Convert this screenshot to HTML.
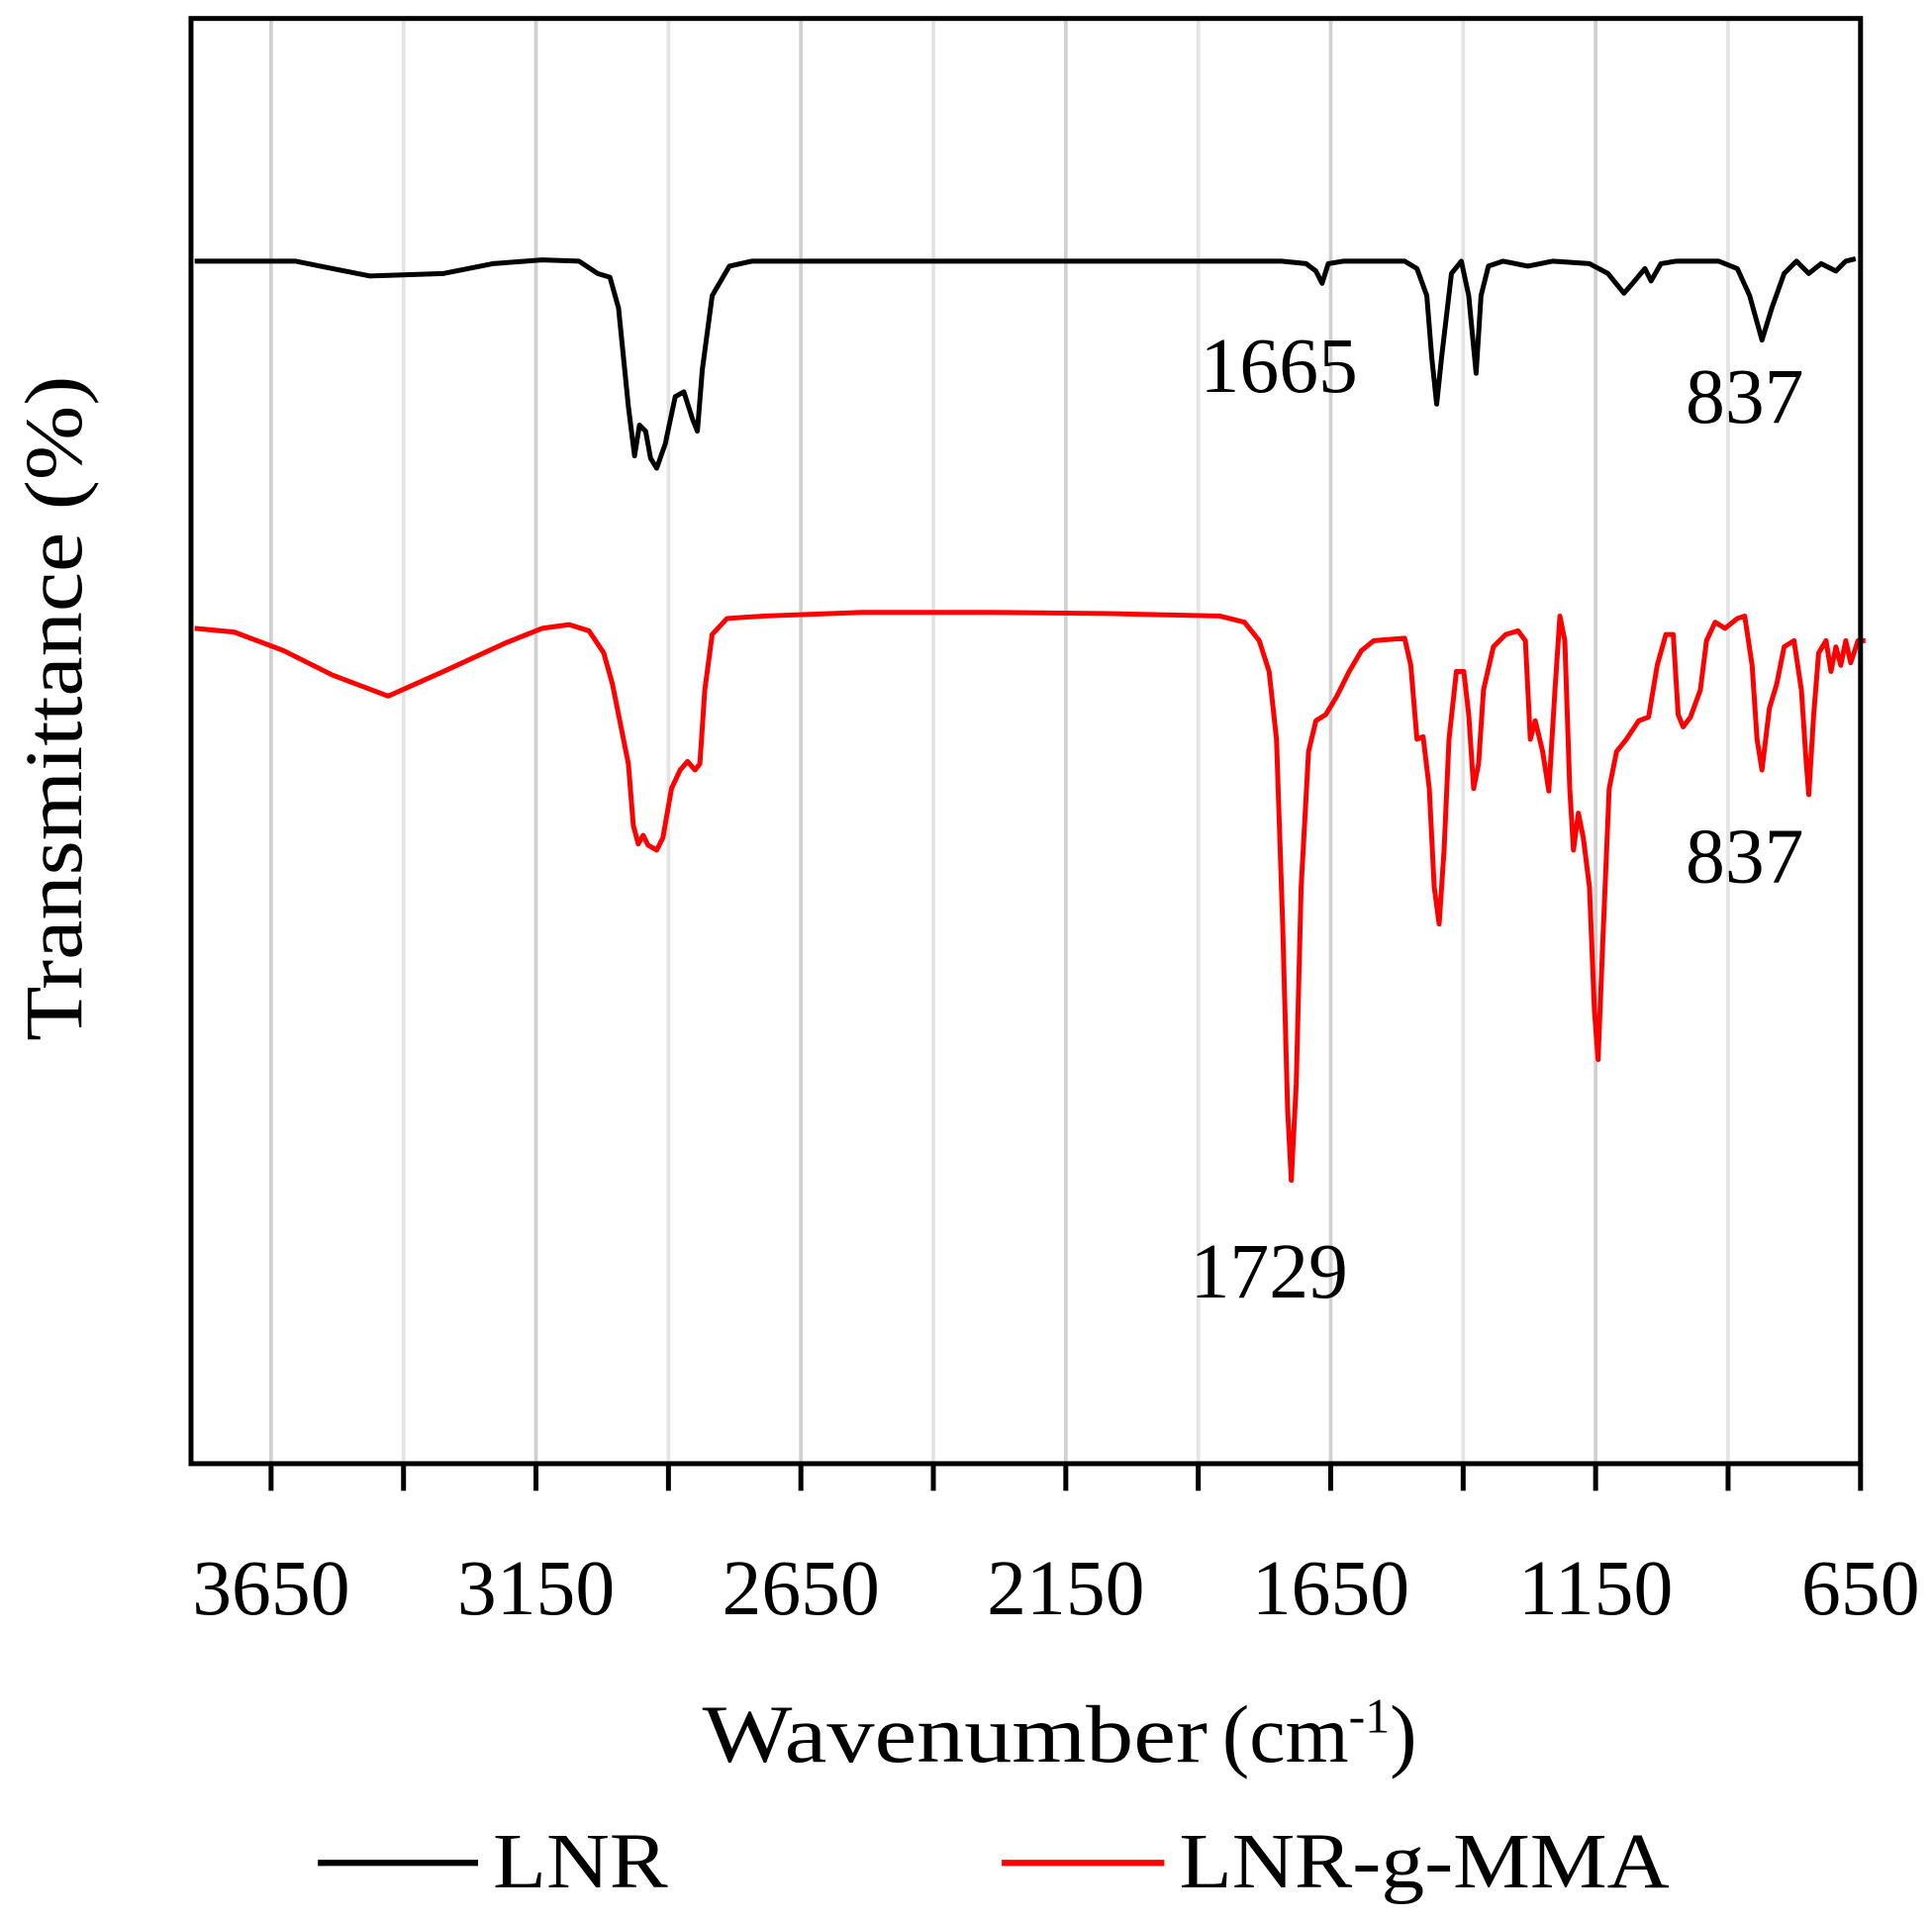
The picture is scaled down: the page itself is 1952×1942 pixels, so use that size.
<!DOCTYPE html>
<html><head><style>html,body{margin:0;padding:0;background:#fff}svg{display:block}</style></head><body>
<svg width="1952" height="1942" viewBox="0 0 1568 1560" preserveAspectRatio="none" xmlns="http://www.w3.org/2000/svg" font-family="'Liberation Serif', serif">
<g stroke="#d0d0d0" stroke-width="3">
<line x1="220" y1="15" x2="220" y2="1188"/><line x1="327.5" y1="15" x2="327.5" y2="1188" stroke="#e4e4e4"/>
<line x1="435" y1="15" x2="435" y2="1188"/><line x1="542.5" y1="15" x2="542.5" y2="1188" stroke="#e4e4e4"/>
<line x1="650" y1="15" x2="650" y2="1188"/><line x1="757.5" y1="15" x2="757.5" y2="1188" stroke="#e4e4e4"/>
<line x1="865" y1="15" x2="865" y2="1188"/><line x1="972.5" y1="15" x2="972.5" y2="1188" stroke="#e4e4e4"/>
<line x1="1080" y1="15" x2="1080" y2="1188"/><line x1="1187.5" y1="15" x2="1187.5" y2="1188" stroke="#e4e4e4"/>
<line x1="1295" y1="15" x2="1295" y2="1188"/><line x1="1402.5" y1="15" x2="1402.5" y2="1188" stroke="#e4e4e4"/>
</g>
<polyline fill="none" stroke="#000" stroke-width="4" stroke-linejoin="round" points="158,212 240,212 270,218 300,224 360,222 400,214 440,211 470,212 485,222 495,225 502,250 510,330 515,370 519,345 524,350 528,372 533,380 540,360 548,322 555,318 562,340 566,350 570,300 578,240 592,216 610,212 640,212 700,212 800,212 900,212 1000,212 1040,212 1060,214 1068,220 1073,230 1078,214 1090,212 1140,212 1150,218 1158,240 1162,290 1166,328 1170,290 1178,222 1186,212 1192,240 1198,303 1202,240 1208,216 1220,212 1240,216 1260,212 1290,214 1305,222 1318,238 1325,230 1335,218 1340,228 1348,214 1360,212 1395,212 1410,218 1420,240 1430,276 1438,250 1448,222 1458,212 1468,222 1478,214 1490,220 1498,212 1506,210"/>
<polyline fill="none" stroke="#f00" stroke-width="4" stroke-linejoin="round" points="158,510 190,513 230,528 270,548 315,565 360,545 410,522 440,510 462,507 478,512 490,530 497,555 505,595 510,620 514,670 518,685 522,678 526,686 533,690 538,680 545,640 552,625 558,618 564,625 568,620 572,560 578,515 590,502 620,500 700,497 800,497 900,498 990,500 1010,505 1022,520 1030,545 1036,600 1041,750 1045,900 1048,958 1052,880 1056,720 1062,610 1068,585 1076,580 1085,565 1095,545 1105,528 1115,520 1140,518 1145,540 1150,600 1155,598 1160,640 1164,720 1168,750 1172,690 1176,600 1182,545 1188,545 1192,580 1196,640 1200,620 1204,560 1212,525 1222,515 1232,512 1238,520 1242,600 1246,585 1252,610 1257,642 1262,560 1266,500 1270,520 1274,640 1277,690 1281,660 1285,680 1290,720 1294,820 1297,860 1301,760 1306,640 1312,610 1320,600 1330,585 1338,582 1345,540 1352,515 1358,515 1362,580 1366,590 1372,582 1380,560 1385,520 1392,505 1400,510 1410,502 1416,500 1422,540 1426,600 1430,625 1436,575 1442,555 1448,525 1456,520 1462,560 1466,620 1468,645 1472,580 1476,530 1482,520 1486,545 1490,525 1494,540 1498,520 1502,538 1508,520 1514,520"/>
<rect x="155" y="15" width="1355" height="1173" fill="none" stroke="#000" stroke-width="4"/>
<g stroke="#000" stroke-width="4">
<line x1="220" y1="1188" x2="220" y2="1210"/><line x1="327.5" y1="1188" x2="327.5" y2="1210"/><line x1="435" y1="1188" x2="435" y2="1210"/><line x1="542.5" y1="1188" x2="542.5" y2="1210"/><line x1="650" y1="1188" x2="650" y2="1210"/><line x1="757.5" y1="1188" x2="757.5" y2="1210"/><line x1="865" y1="1188" x2="865" y2="1210"/><line x1="972.5" y1="1188" x2="972.5" y2="1210"/><line x1="1080" y1="1188" x2="1080" y2="1210"/><line x1="1187.5" y1="1188" x2="1187.5" y2="1210"/><line x1="1295" y1="1188" x2="1295" y2="1210"/><line x1="1402.5" y1="1188" x2="1402.5" y2="1210"/><line x1="1510" y1="1188" x2="1510" y2="1210"/>
</g>
<g font-size="64" fill="#000">
<g text-anchor="middle">
<text x="220" y="1310">3650</text><text x="435" y="1310">3150</text><text x="650" y="1310">2650</text><text x="865" y="1310">2150</text><text x="1080" y="1310">1650</text><text x="1295" y="1310">1150</text><text x="1510" y="1310">650</text>
<text x="1038" y="318">1665</text><text x="1416" y="343">837</text><text x="1416" y="716">837</text><text x="1030" y="1053">1729</text>
</g>
<text x="570" y="1430" font-size="66" textLength="410" lengthAdjust="spacingAndGlyphs">Wavenumber</text>
<text x="992" y="1430" font-size="66">(cm<tspan font-size="40" dy="-24">-1</tspan><tspan dy="24">)</tspan></text>
<text transform="translate(66,845) rotate(-90)" font-size="66" textLength="540" lengthAdjust="spacingAndGlyphs">Transmittance (%)</text>
<text x="400" y="1532" textLength="142" lengthAdjust="spacingAndGlyphs">LNR</text>
<text x="957" y="1532" textLength="398" lengthAdjust="spacingAndGlyphs">LNR-g-MMA</text>
</g>
<line x1="258" y1="1512" x2="388" y2="1512" stroke="#000" stroke-width="5"/>
<line x1="813" y1="1512" x2="945" y2="1512" stroke="#f00" stroke-width="5"/>
</svg>
</body></html>
